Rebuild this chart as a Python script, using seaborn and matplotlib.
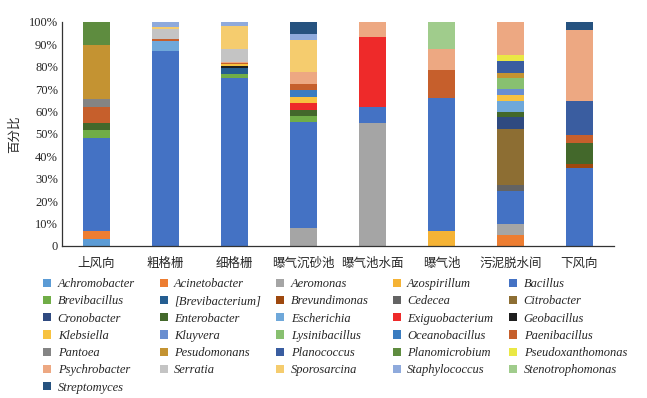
import numpy as np
import pandas as pd
import matplotlib
matplotlib.use("Agg")
import matplotlib.pyplot as plt
from matplotlib.patches import Patch
import seaborn as sns

sites = ["上风向", "粗格栅", "细格栅", "曝气沉砂池", "曝气池水面", "曝气池", "污泥脱水间", "下风向"]

genera = ["Achromobacter", "Acinetobacter", "Aeromonas", "Azospirillum", "Bacillus",
          "Brevibacillus", "[Brevibacterium]", "Brevundimonas", "Cedecea", "Citrobacter",
          "Cronobacter", "Enterobacter", "Escherichia", "Exiguobacterium", "Geobacillus",
          "Klebsiella", "Kluyvera", "Lysinibacillus", "Oceanobacillus", "Paenibacillus",
          "Pantoea", "Pesudomonans", "Planococcus", "Planomicrobium", "Pseudoxanthomonas",
          "Psychrobacter", "Serratia", "Sporosarcina", "Staphylococcus", "Stenotrophomonas",
          "Streptomyces"]

colors = ["#5B9BD5", "#ED7D31", "#A5A5A5", "#F5B335", "#4472C4",
          "#70AD47", "#255E91", "#9E480E", "#636363", "#8D6E33",
          "#2F4A80", "#43682B", "#6FA8DA", "#EE2A2A", "#1E1E1E",
          "#F7C240", "#698ED0", "#88C070", "#3A7CC0", "#C65F2C",
          "#848484", "#C49332", "#3A5DA0", "#5E8C3F", "#EAE845",
          "#EDA882", "#C4C4C4", "#F5CC6E", "#8FAADC", "#A0CC8C",
          "#26527F"]

# relative abundance (%) per site
shangfeng = {"Achromobacter": 3.1, "Acinetobacter": 3.6, "Bacillus": 41.6, "Brevibacillus": 3.3,
             "Enterobacter": 3.4, "Paenibacillus": 7.0, "Pantoea": 3.6, "Pesudomonans": 24.1,
             "Planomicrobium": 10.3}
cugeshan = {"Bacillus": 87.1, "Escherichia": 4.2, "Paenibacillus": 1.2, "Serratia": 4.3,
            "Sporosarcina": 0.9, "Staphylococcus": 2.3}
xigeshan = {"Bacillus": 74.9, "Brevibacillus": 1.8, "[Brevibacterium]": 2.5, "Geobacillus": 1.2,
            "Klebsiella": 0.6, "Paenibacillus": 0.7, "Psychrobacter": 0.6, "Serratia": 5.5,
            "Sporosarcina": 10.4, "Staphylococcus": 1.8}
chenshachi = {"Aeromonas": 8.0, "Bacillus": 47.3, "Brevibacillus": 2.8, "Enterobacter": 2.8,
              "Exiguobacterium": 2.8, "Klebsiella": 2.7, "Oceanobacillus": 3.1,
              "Paenibacillus": 2.7, "Psychrobacter": 5.5, "Sporosarcina": 14.1,
              "Staphylococcus": 2.7, "Streptomyces": 5.5}
chishuimian = {"Aeromonas": 55.0, "Bacillus": 6.8, "Exiguobacterium": 31.4, "Psychrobacter": 6.8}
baoqichi = {"Azospirillum": 6.8, "Bacillus": 59.4, "Paenibacillus": 12.2, "Psychrobacter": 9.4,
            "Stenotrophomonas": 12.2}
wuni = {"Acinetobacter": 4.8, "Aeromonas": 4.9, "Bacillus": 15.0, "Cedecea": 2.5,
        "Citrobacter": 25.0, "Cronobacter": 5.2, "Enterobacter": 2.5, "Escherichia": 4.9,
        "Klebsiella": 2.5, "Kluyvera": 2.7, "Lysinibacillus": 4.9, "Pesudomonans": 2.4,
        "Planococcus": 5.2, "Pseudoxanthomonas": 2.7, "Psychrobacter": 14.8}
xiafeng = {"Bacillus": 34.9, "Brevundimonas": 1.9, "Enterobacter": 9.1, "Paenibacillus": 3.7,
           "Planococcus": 15.0, "Psychrobacter": 31.7, "Streptomyces": 3.7}

site_data = [shangfeng, cugeshan, xigeshan, chenshachi, chishuimian, baoqichi, wuni, xiafeng]

df = pd.DataFrame([[d.get(g, 0.0) for g in genera] for d in site_data],
                  index=sites, columns=genera)

sns.set_style("white")
plt.rcParams["font.family"] = ["Liberation Serif", "Noto Sans CJK SC"]

fig = plt.figure(figsize=(6.47, 3.98), dpi=100)
ax = fig.add_axes([0.096, 0.382, 0.853, 0.563])

bottom = np.zeros(len(sites))
for g, c in zip(genera, colors):
    vals = df[g].values
    sns.barplot(x=sites, y=vals, order=sites, color=c, saturation=1, width=0.4,
                errorbar=None, bottom=bottom, ax=ax, linewidth=0)
    bottom = bottom + vals

ax.set_xlim(-0.5, len(sites) - 0.5)
ax.set_ylim(0, 100)
ax.set_yticks(np.arange(0, 101, 10))
ax.set_yticklabels(["0"] + [f"{v}%" for v in range(10, 101, 10)], fontsize=9)
ax.set_xticks(range(len(sites)))
ax.set_xticklabels(sites, fontsize=9, family=["Noto Sans CJK SC"])
ax.set_xticks(np.arange(-0.5, len(sites)), minor=True)
ax.tick_params(axis="x", which="major", length=0, pad=8)
ax.tick_params(axis="x", which="minor", direction="in", length=4, width=0.8, color="#333333")
ax.tick_params(axis="y", direction="in", length=4, width=0.8, color="#333333", pad=3)
ax.set_ylabel("百分比", fontsize=9, family=["Noto Sans CJK SC"], labelpad=6)
ax.set_xlabel("")
sns.despine(ax=ax)
for s in ["left", "bottom"]:
    ax.spines[s].set_color("#333333")
    ax.spines[s].set_linewidth(0.9)

# legend: five columns laid out row by row
handles = [Patch(facecolor=c, edgecolor="none") for c in colors]
col_x = [0.067, 0.247, 0.427, 0.607, 0.787]
for ci, x0 in enumerate(col_x):
    idx = list(range(ci, len(genera), 5))
    fig.legend([handles[i] for i in idx], [genera[i] for i in idx],
               loc="upper left", bbox_to_anchor=(x0, 0.301), frameon=False,
               prop={"family": "Liberation Serif", "style": "italic", "size": 9},
               handlelength=0.65, handleheight=0.65, handletextpad=0.5,
               labelspacing=0.42, borderaxespad=0, borderpad=0)

fig.savefig("out.png", dpi=100)
